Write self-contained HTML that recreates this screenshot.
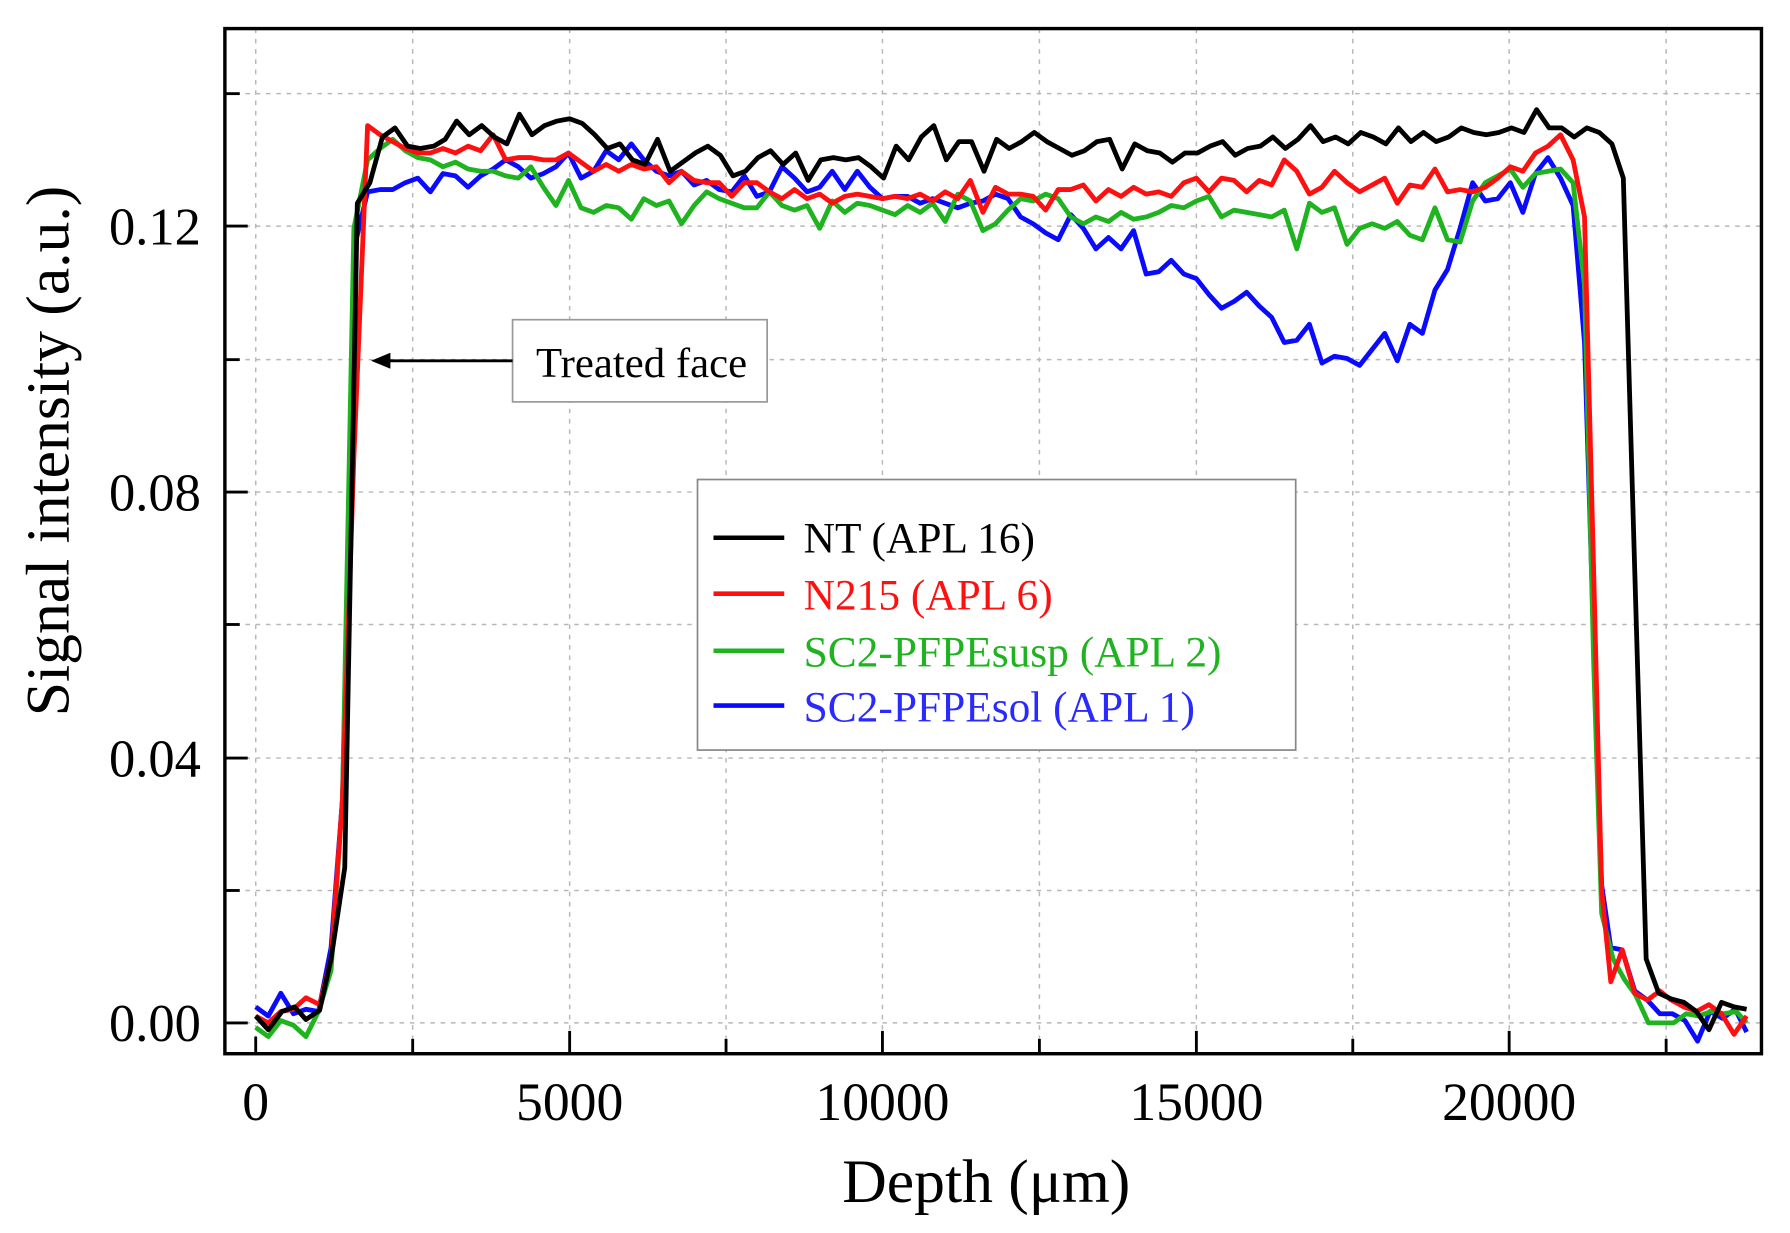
<!DOCTYPE html>
<html><head><meta charset="utf-8"><style>html,body{margin:0;padding:0;background:#fff}svg{display:block}</style></head>
<body>
<svg width="1790" height="1233" viewBox="0 0 1568 1080" xmlns="http://www.w3.org/2000/svg" font-family="'Liberation Serif',serif">
<rect width="1568" height="1080" fill="#fff"/>
<g stroke="#b8b8b8" stroke-width="1.3" stroke-dasharray="4,5">
<line x1="224" y1="25" x2="224" y2="923"/><line x1="361.5" y1="25" x2="361.5" y2="923"/><line x1="499" y1="25" x2="499" y2="923"/><line x1="636" y1="25" x2="636" y2="923"/><line x1="773" y1="25" x2="773" y2="923"/><line x1="910.5" y1="25" x2="910.5" y2="923"/><line x1="1048" y1="25" x2="1048" y2="923"/><line x1="1185" y1="25" x2="1185" y2="923"/><line x1="1322" y1="25" x2="1322" y2="923"/><line x1="1459.5" y1="25" x2="1459.5" y2="923"/>
<line x1="197" y1="896" x2="1543" y2="896"/><line x1="197" y1="780" x2="1543" y2="780"/><line x1="197" y1="664" x2="1543" y2="664"/><line x1="197" y1="547" x2="1543" y2="547"/><line x1="197" y1="431" x2="1543" y2="431"/><line x1="197" y1="315" x2="1543" y2="315"/><line x1="197" y1="198" x2="1543" y2="198"/><line x1="197" y1="82" x2="1543" y2="82"/>
</g>
<g fill="none" stroke-width="4.2" stroke-linejoin="round">
<polyline stroke="#0a0aff" points="224,882 235,890 246,870 257,888 268,884 279,886 290,830 300,700 312,210 322,168 333,166 344,166 355,160 366,156 377,168 388,152 399,154 410,164 421,154 432,148 443,140 454,146 465,156 476,152 487,146 498,134 509,156 520,150 531,132 542,140 553,126 564,140 575,150 586,154 597,150 608,162 619,158 630,166 641,168 652,154 663,172 674,168 685,146 696,156 707,168 718,164 729,150 740,166 751,150 762,164 773,174 784,172 795,172 806,178 817,174 828,178 839,182 850,178 861,176 872,170 883,174 894,190 905,196 916,204 927,210 938,188 949,200 960,218 971,208 982,218 993,202 1004,240 1015,238 1026,228 1037,240 1048,244 1059,258 1070,270 1081,264 1092,256 1103,268 1114,278 1125,300 1136,298 1147,284 1158,318 1169,312 1180,314 1191,320 1202,306 1213,292 1224,316 1235,284 1246,292 1257,254 1268,236 1279,200 1290,160 1301,176 1312,174 1323,160 1334,186 1345,152 1356,138 1367,156 1378,180 1388,300 1396,560 1403,775 1411,830 1421,832 1432,868 1443,876 1454,888 1465,888 1476,894 1487,912 1498,886 1509,892 1520,884 1530,904"/>
<polyline stroke="#1fb31f" points="224,900 235,908 246,894 257,898 268,908 279,886 290,850 300,700 310,200 322,140 333,130 344,122 355,132 366,138 377,140 388,146 399,142 410,148 421,150 432,150 443,154 454,156 465,146 476,164 487,180 498,158 509,182 520,186 531,180 542,182 553,192 564,174 575,180 586,176 597,196 608,180 619,168 630,174 641,178 652,182 663,182 674,168 685,180 696,184 707,180 718,200 729,176 740,186 751,178 762,180 773,184 784,188 795,180 806,186 817,178 828,194 839,170 850,176 861,202 872,196 883,184 894,174 905,176 916,170 927,174 938,190 949,196 960,190 971,194 982,186 993,192 1004,190 1015,186 1026,180 1037,182 1048,176 1059,172 1070,190 1081,184 1092,186 1103,188 1114,190 1125,184 1136,218 1147,178 1158,186 1169,182 1180,214 1191,200 1202,196 1213,200 1224,194 1235,206 1246,210 1257,182 1268,210 1279,212 1290,176 1301,160 1312,154 1323,148 1334,164 1345,152 1356,150 1367,148 1378,160 1388,250 1396,580 1403,800 1413,840 1423,858 1433,872 1444,896 1455,896 1466,896 1477,888 1488,890 1499,886 1510,888 1521,886 1530,896"/>
<polyline stroke="#ff1010" points="224,890 235,896 246,886 257,884 268,874 280,880 290,840 300,700 310,400 322,110 333,118 344,124 355,130 366,134 377,134 388,130 399,134 410,128 421,132 432,118 443,140 454,138 465,138 476,140 487,140 498,134 509,142 520,150 531,144 542,150 553,144 564,148 575,146 586,160 597,150 608,158 619,160 630,160 641,172 652,160 663,160 674,168 685,174 696,166 707,174 718,170 729,178 740,172 751,170 762,172 773,174 784,172 795,174 806,170 817,176 828,168 839,174 850,158 861,186 872,164 883,170 894,170 905,172 916,184 927,166 938,166 949,162 960,176 971,166 982,172 993,164 1004,170 1015,168 1026,172 1037,160 1048,156 1059,168 1070,156 1081,158 1092,168 1103,158 1114,162 1125,140 1136,150 1147,170 1158,164 1169,150 1180,160 1191,168 1202,162 1213,156 1224,178 1235,162 1246,164 1257,148 1268,168 1279,166 1290,168 1301,164 1312,156 1323,146 1334,150 1345,134 1356,128 1367,118 1378,140 1388,190 1396,500 1403,780 1411,860 1421,832 1432,870 1443,876 1454,868 1464,876 1475,882 1486,886 1497,880 1508,888 1519,906 1530,890"/>
<polyline stroke="#000" points="224,890 235,902 247,886 258,882 268,893 280,885 290,840 302,760 313,178 324,160 335,120 346,112 357,128 368,130 380,128 390,122 400,106 411,118 422,110 433,120 444,126 455,100 466,118 477,110 488,106 499,104 510,108 521,118 532,130 543,126 554,140 565,144 576,122 587,150 598,142 609,134 620,128 631,136 642,154 653,150 664,138 675,132 686,144 697,134 708,158 719,140 730,138 741,140 752,138 763,146 774,156 785,128 796,140 807,120 818,110 829,140 840,124 851,124 862,150 873,122 884,130 895,124 906,116 917,124 928,130 939,136 950,132 961,124 972,122 983,148 994,126 1005,132 1016,134 1027,142 1038,134 1049,134 1060,128 1071,124 1082,136 1093,130 1104,128 1115,120 1126,130 1137,122 1148,110 1159,124 1170,120 1181,126 1192,116 1203,120 1214,126 1225,112 1236,124 1247,116 1258,124 1269,120 1280,112 1291,116 1302,118 1313,116 1324,112 1335,116 1346,96 1357,112 1368,112 1379,120 1390,112 1401,116 1412,126 1422,156 1432,500 1442,840 1453,870 1464,875 1475,878 1486,886 1497,902 1508,878 1519,882 1530,884"/>
</g>
<rect x="197" y="25" width="1346" height="898" fill="none" stroke="#000" stroke-width="3"/>
<g stroke="#000" stroke-width="2.5">
<line x1="224" y1="923" x2="224" y2="908"/><line x1="499" y1="923" x2="499" y2="903"/><line x1="773" y1="923" x2="773" y2="903"/><line x1="1048" y1="923" x2="1048" y2="903"/><line x1="1322" y1="923" x2="1322" y2="903"/>
<line x1="361.5" y1="923" x2="361.5" y2="910"/><line x1="636" y1="923" x2="636" y2="910"/><line x1="910.5" y1="923" x2="910.5" y2="910"/><line x1="1185" y1="923" x2="1185" y2="910"/><line x1="1459.5" y1="923" x2="1459.5" y2="910"/>
<line x1="197" y1="896" x2="217" y2="896"/><line x1="197" y1="664" x2="217" y2="664"/><line x1="197" y1="431" x2="217" y2="431"/><line x1="197" y1="198" x2="217" y2="198"/>
<line x1="197" y1="780" x2="210" y2="780"/><line x1="197" y1="547" x2="210" y2="547"/><line x1="197" y1="315" x2="210" y2="315"/><line x1="197" y1="82" x2="210" y2="82"/>
</g>
<g font-size="46" fill="#000" text-anchor="end">
<text x="176" y="912">0.00</text><text x="176" y="680">0.04</text><text x="176" y="447">0.08</text><text x="176" y="214">0.12</text>
</g>
<g font-size="47" fill="#000" text-anchor="middle">
<text x="224" y="981">0</text><text x="499" y="981">5000</text><text x="773" y="981">10000</text><text x="1048" y="981">15000</text><text x="1322" y="981">20000</text>
</g>
<text x="864" y="1053" font-size="54" text-anchor="middle">Depth (μm)</text>
<text transform="translate(60,395) rotate(-90)" font-size="54" text-anchor="middle">Signal intensity (a.u.)</text>
<rect x="449" y="280" width="223" height="72" fill="#fff" stroke="#999" stroke-width="1.5"/>
<text x="562" y="330" font-size="37.5" text-anchor="middle">Treated face</text>
<line x1="449" y1="316" x2="338" y2="316" stroke="#000" stroke-width="2.5"/>
<polygon points="325,316 342,309 342,323" fill="#000"/>
<rect x="611" y="420" width="524" height="237" fill="#fff" stroke="#888" stroke-width="1.5"/>
<g stroke-width="4">
<line x1="625" y1="471" x2="687" y2="471" stroke="#000"/><line x1="625" y1="520" x2="687" y2="520" stroke="#ff1010"/><line x1="625" y1="570" x2="687" y2="570" stroke="#1fb31f"/><line x1="625" y1="618" x2="687" y2="618" stroke="#0a0aff"/>
</g>
<g font-size="38">
<text x="704" y="484" fill="#000">NT (APL 16)</text>
<text x="704" y="534" fill="#ff1010">N215 (APL 6)</text>
<text x="704" y="584" fill="#1fb31f">SC2-PFPEsusp (APL 2)</text>
<text x="704" y="632" fill="#2a2aff">SC2-PFPEsol (APL 1)</text>
</g>
</svg>
</body></html>
